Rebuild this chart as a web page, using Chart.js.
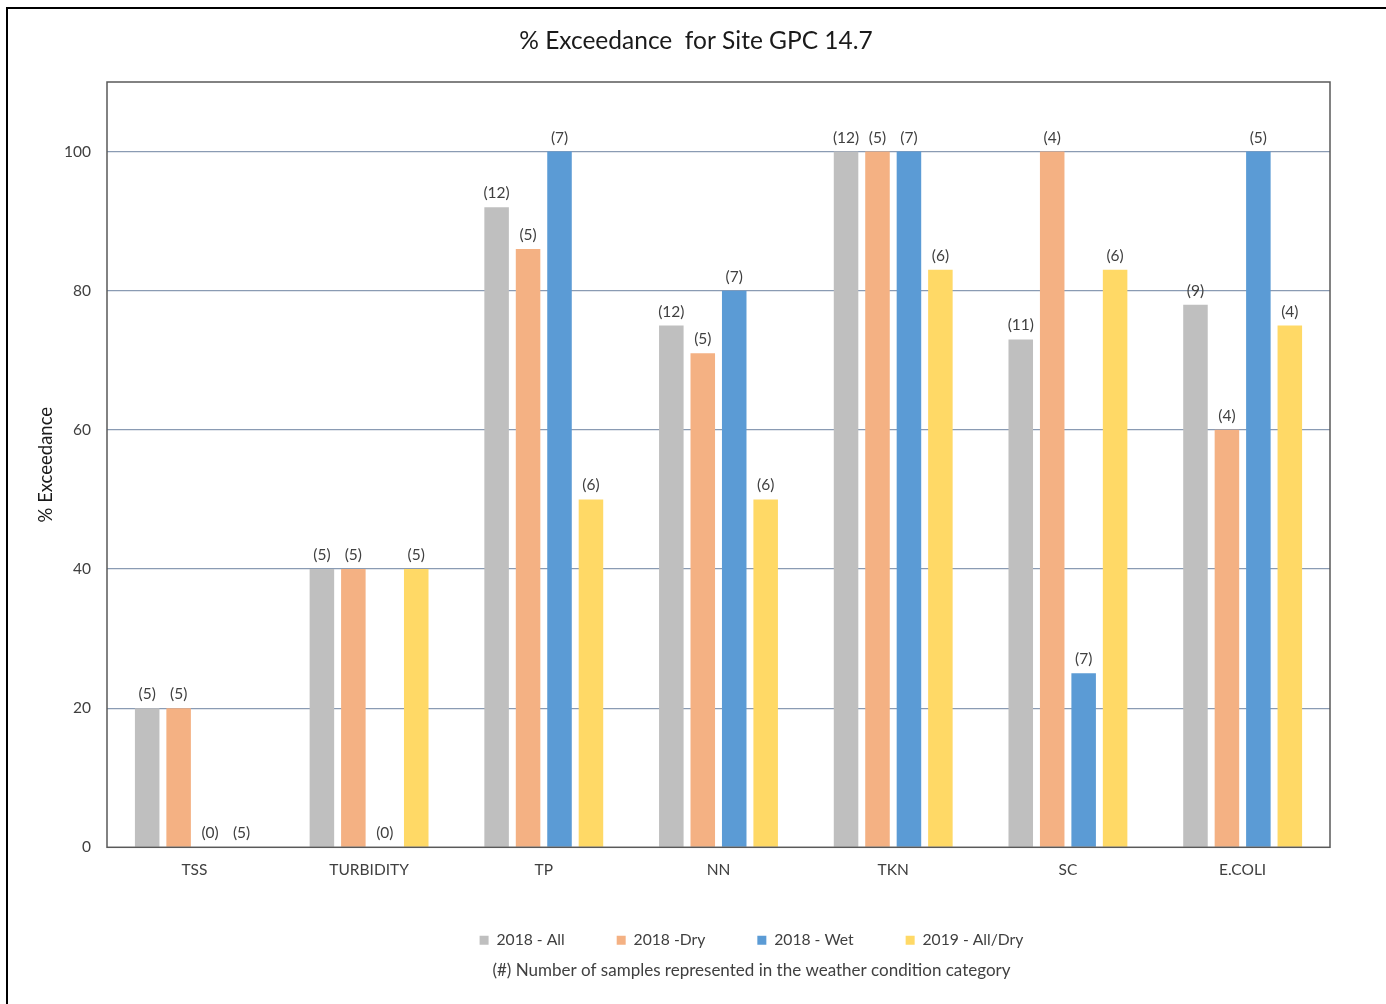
<!DOCTYPE html>
<html>
<head>
<meta charset="utf-8">
<title>% Exceedance for Site GPC 14.7</title>
<script src="https://cdn.jsdelivr.net/npm/chart.js@4/dist/chart.umd.min.js"></script>
<style>
  html, body { margin: 0; padding: 0; background: #ffffff; }
  #wrap { position: relative; width: 1386px; height: 1004px; overflow: hidden; }
  #frame {
    position: absolute; left: 6px; top: 7px; width: 1500px; height: 1100px;
    border-left: 2px solid #000; border-top: 2px solid #000;
    pointer-events: none; box-sizing: border-box;
  }
  canvas { display: block; }
</style>
</head>
<body>
<div id="wrap">
  <canvas id="chart" width="1386" height="1004"></canvas>
  <div id="frame"></div>
</div>
<script>
// Parameters measured at the site
const categories = ['TSS', 'TURBIDITY', 'TP', 'NN', 'TKN', 'SC', 'E.COLI'];

// % exceedance per weather-condition group
const all2018 = [20, 40, 92, 75, 100, 73, 78];
const dry2018 = [20, 40, 86, 71, 100, 100, 60];
const wet2018 = [0, 0, 100, 80, 100, 25, 100];
const allDry2019 = [0, 40, 50, 50, 83, 83, 75];

// number of samples behind each bar
const nAll2018 = [5, 5, 12, 12, 12, 11, 9];
const nDry2018 = [5, 5, 5, 5, 5, 4, 4];
const nWet2018 = [0, 0, 7, 7, 7, 7, 5];
const nAllDry2019 = [5, 5, 6, 6, 6, 6, 4];

const seriesLabels = ['2018 - All', '2018 -Dry', '2018 - Wet', '2019 - All/Dry'];
const yTicks = [0, 20, 40, 60, 80, 100];

const FONT = "Lato, 'Liberation Sans', sans-serif";
const colors = ['#BFBFBF', '#F4B183', '#5B9BD5', '#FFD966'];
const values = [all2018, dry2018, wet2018, allDry2019];
const counts = [nAll2018, nDry2018, nWet2018, nAllDry2019];

const datasets = seriesLabels.map((label, i) => ({
  label,
  data: values[i],
  counts: counts[i],
  backgroundColor: colors[i],
  borderWidth: 0,
  barPercentage: 0.78,
  categoryPercentage: 0.72
}));

// "(n)" sample-count labels above each bar
const countLabels = {
  id: 'countLabels',
  afterDatasetsDraw(chart) {
    const ctx = chart.ctx;
    ctx.save();
    ctx.font = '15.5px ' + FONT;
    ctx.fillStyle = '#404040';
    ctx.textAlign = 'center';
    ctx.textBaseline = 'middle';
    chart.data.datasets.forEach((ds, di) => {
      const meta = chart.getDatasetMeta(di);
      meta.data.forEach((bar, i) => {
        const n = ds.counts[i];
        if (n === null || n === undefined) return;
        ctx.fillText('(' + n + ')', bar.x, bar.y - 14);
      });
    });
    ctx.restore();
  }
};

// outline of the plot area
const plotFrame = {
  id: 'plotFrame',
  afterDraw(chart) {
    const a = chart.chartArea;
    const ctx = chart.ctx;
    ctx.save();
    ctx.strokeStyle = '#595959';
    ctx.lineWidth = 1.5;
    ctx.strokeRect(a.left, a.top, a.right - a.left, a.bottom - a.top);
    ctx.restore();
  }
};

// title, legend and footnote sit a little right of their default centres
const shiftBoxes = {
  id: 'shiftBoxes',
  afterLayout(chart) {
    chart.boxes.forEach(b => {
      if (b.axis) return;
      const dx = b.position === 'bottom' ? 33 : 31;
      b.left += dx; b.right += dx;
    });
  }
};

new Chart(document.getElementById('chart'), {
  type: 'bar',
  data: { labels: categories, datasets },
  plugins: [countLabels, plotFrame, shiftBoxes],
  options: {
    responsive: false,
    animation: false,
    layout: { padding: { left: 0, right: 56, top: 0, bottom: 0 } },
    plugins: {
      title: {
        display: true,
        text: '% Exceedance  for Site GPC 14.7',
        color: '#1a1a1a',
        font: { family: FONT, size: 24.5, weight: 'normal' },
        padding: { top: 26, bottom: 26.6 }
      },
      legend: {
        display: true,
        position: 'bottom',
        fullSize: false,
        maxHeight: 80,
        labels: {
          color: '#404040',
          font: { family: FONT, size: 15.7 },
          boxWidth: 9,
          boxHeight: 9,
          padding: 52
        }
      },
      subtitle: {
        display: true,
        position: 'bottom',
        fullSize: false,
        text: '(#) Number of samples represented in the weather condition category',
        color: '#404040',
        font: { family: FONT, size: 17, weight: 'normal' },
        padding: { top: 2, bottom: 23.6 }
      },
      tooltip: { enabled: false }
    },
    scales: {
      x: {
        grid: { display: false, drawTicks: false },
        border: { display: false },
        ticks: { color: '#404040', font: { family: FONT, size: 15.5 }, padding: 13 },
        afterFit(scale) { scale.height = 33; }
      },
      y: {
        min: 0,
        max: 110,
        grid: {
          color: ctx => (ctx.tick && ctx.tick.value > 0 && ctx.tick.value <= 100) ? '#8A9BB3' : 'rgba(0,0,0,0)',
          lineWidth: 1.2,
          drawTicks: false
        },
        border: { display: false },
        ticks: {
          color: '#404040',
          font: { family: FONT, size: 15.5 },
          padding: 16
        },
        afterBuildTicks(scale) {
          scale.ticks = yTicks.map(v => ({ value: v }));
        },
        title: {
          display: true,
          text: '% Exceedance',
          color: '#1a1a1a',
          font: { family: FONT, size: 18.5 },
          padding: { top: 35, bottom: 4 }
        },
        afterFit(scale) { scale.width = 107; }
      }
    }
  }
});
</script>
</body>
</html>
